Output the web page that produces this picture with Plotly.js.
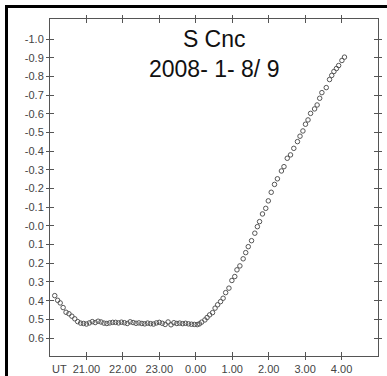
<!DOCTYPE html>
<html>
<head>
<meta charset="utf-8">
<script src="https://cdn.plot.ly/plotly-3.0.1.min.js"></script>
<style>
html,body{margin:0;padding:0;background:#fff;}
#wrap{position:relative;width:387px;height:376px;overflow:hidden;}
#chart{position:absolute;left:0;top:0;width:387px;height:376px;}
#frame{position:absolute;left:5px;top:5px;width:400px;height:400px;border-top:3px solid #000;border-left:3px solid #000;pointer-events:none;}
</style>
</head>
<body>
<div id="wrap"><div id="chart"></div><div id="frame"></div></div>
<script>
// UT hours (24 = 0.00 next day)
const times = [
20.13,20.21,20.28,20.36,20.44,20.52,20.60,20.68,20.76,20.84,
20.92,21.00,21.08,21.16,21.24,21.32,21.40,21.48,21.56,21.64,
21.72,21.80,21.88,21.96,22.04,22.12,22.20,22.28,22.36,22.44,
22.52,22.60,22.68,22.76,22.84,22.92,23.00,23.08,23.16,23.24,
23.32,23.40,23.48,23.56,23.64,23.72,23.80,23.88,23.96,24.04,
24.10,24.16,24.25,24.31,24.38,24.46,24.53,24.60,24.68,24.75,
24.82,24.91,24.99,25.07,25.13,25.21,25.30,25.37,25.44,25.53,
25.62,25.69,25.75,25.83,25.92,25.99,26.07,26.16,26.24,26.35,
26.42,26.51,26.60,26.69,26.79,26.86,26.94,27.01,27.08,27.15,
27.26,27.33,27.40,27.46,27.58,27.67,27.73,27.79,27.86,27.92,
28.01,28.08];
const mags = [
0.373,0.398,0.412,0.437,0.462,0.470,0.483,0.497,0.512,0.520,
0.522,0.525,0.519,0.512,0.517,0.510,0.514,0.520,0.522,0.519,
0.516,0.516,0.519,0.515,0.518,0.522,0.513,0.517,0.521,0.519,
0.522,0.524,0.520,0.523,0.525,0.519,0.516,0.521,0.527,0.514,
0.529,0.518,0.522,0.520,0.523,0.521,0.524,0.526,0.527,0.528,
0.524,0.515,0.503,0.490,0.476,0.464,0.440,0.422,0.405,0.387,
0.357,0.333,0.292,0.271,0.235,0.214,0.176,0.143,0.111,0.079,
0.039,0.004,-0.023,-0.064,-0.094,-0.134,-0.180,-0.222,-0.252,-0.294,
-0.317,-0.362,-0.380,-0.415,-0.451,-0.480,-0.508,-0.544,-0.567,-0.602,
-0.626,-0.647,-0.683,-0.713,-0.740,-0.783,-0.805,-0.826,-0.842,-0.858,
-0.885,-0.903];

const xTickVals = [21,22,23,24,25,26,27,28];
const xTickText = ['21.00','22.00','23.00','0.00','1.00','2.00','3.00','4.00'];
const yTickVals = [-1.0,-0.9,-0.8,-0.7,-0.6,-0.5,-0.4,-0.3,-0.2,-0.1,0.0,0.1,0.2,0.3,0.4,0.5,0.6];
const yTickText = ['-1.0','-0.9','-0.8','-0.7','-0.6','-0.5','-0.4','-0.3','-0.2','-0.1','-0.0','0.1','0.2','0.3','0.4','0.5','0.6'];
const titleLines = ['S Cnc','2008- 1- 8/ 9'];

const axCol = '#555';
const xr = [20, 29];
const yr = [0.696, -1.107];

const data = [
  {x: times, y: mags, type:'scatter', mode:'markers',
   marker:{symbol:'circle-open', size:4.5, color:'#555', line:{width:1, color:'#555'}},
   hoverinfo:'skip', showlegend:false},
  {x: [], y: [], xaxis:'x2', yaxis:'y2', type:'scatter', mode:'markers', showlegend:false}
];

const fontTick = {family:'Liberation Sans, Arial, sans-serif', size:11, color:'#444'};

const layout = {
  width:387, height:376,
  margin:{l:50, r:9, t:19, b:20, pad:0},
  paper_bgcolor:'#fff', plot_bgcolor:'#fff',
  showlegend:false,
  xaxis:{range:xr, tickmode:'array', tickvals:xTickVals, ticktext:xTickText,
    showgrid:false, zeroline:false, showline:true, linecolor:axCol, linewidth:1,
    ticks:'outside', ticklen:3, tickcolor:axCol, tickwidth:1, mirror:'ticks',
    tickfont:fontTick, fixedrange:true},
  yaxis:{range:yr, tickmode:'array', tickvals:yTickVals, ticktext:yTickText,
    showgrid:false, zeroline:false, showline:true, linecolor:axCol, linewidth:1,
    ticks:'outside', ticklen:3, tickcolor:axCol, tickwidth:1, mirror:'ticks',
    tickfont:fontTick, fixedrange:true},
  xaxis2:{range:xr, overlaying:'x', anchor:'y2', tickmode:'array', tickvals:xTickVals,
    showgrid:false, zeroline:false, showline:false, showticklabels:false,
    ticks:'inside', ticklen:4, tickcolor:axCol, tickwidth:1, mirror:'ticks', fixedrange:true},
  yaxis2:{range:yr, overlaying:'y', anchor:'x2', tickmode:'array', tickvals:yTickVals,
    showgrid:false, zeroline:false, showline:false, showticklabels:false,
    ticks:'inside', ticklen:4, tickcolor:axCol, tickwidth:1, mirror:'ticks', fixedrange:true},
  annotations:[
    {text: titleLines.join('<br>'), xref:'paper', yref:'paper', x:0.5, y:0.985,
     xanchor:'center', yanchor:'top', showarrow:false, align:'center',
     font:{family:'Liberation Sans, Arial, sans-serif', size:23, color:'#111'}},
    {text:'UT', xref:'paper', yref:'paper', x:0, y:-0.015, xanchor:'left', yanchor:'top',
     showarrow:false, font:fontTick}
  ]
};

Plotly.newPlot('chart', data, layout, {staticPlot:true, displayModeBar:false});
</script>
</body>
</html>
